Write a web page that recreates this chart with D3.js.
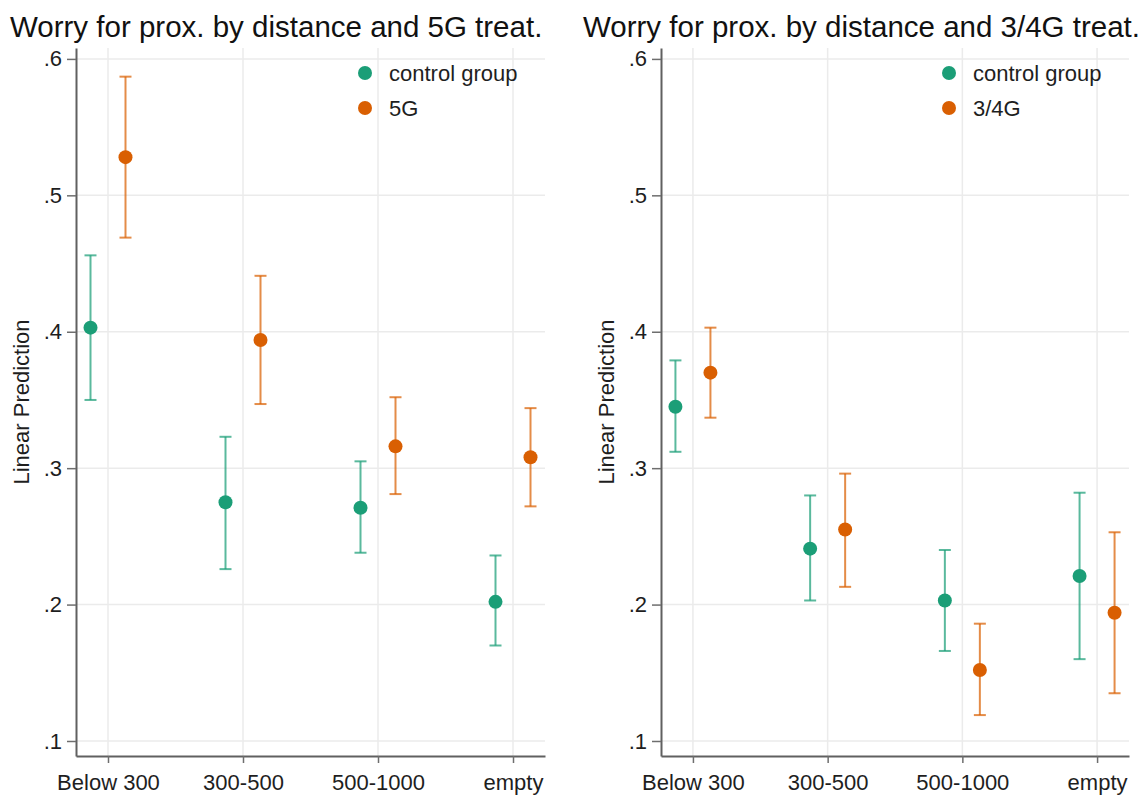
<!DOCTYPE html>
<html>
<head>
<meta charset="utf-8">
<script src="https://cdn.jsdelivr.net/npm/d3@7"></script>
<style>
  body { margin: 0; background: #fff; }
  svg { display: block; font-family: "Liberation Sans", Arial, sans-serif; }
  .grid line { stroke: #ebebeb; stroke-width: 1.5; }
  .axis .domain { stroke: #606060; stroke-width: 2; }
  .axis .tick line { stroke: #6e6e6e; stroke-width: 1.5; }
  .axis text { fill: #1e1e1e; font-size: 22px; }
</style>
</head>
<body>
<svg id="chart" width="1146" height="800"></svg>
<script>
// distance categories and y ticks
const categories = ["Below 300", "300-500", "500-1000", "empty"];
const yTicks = [0.1, 0.2, 0.3, 0.4, 0.5, 0.6];

// panel 1: 5G treatment
const ctrlA = [0.403, 0.275, 0.271, 0.202];
const ctrlA_lo = [0.350, 0.226, 0.238, 0.170];
const ctrlA_hi = [0.456, 0.323, 0.305, 0.236];
const treatA = [0.528, 0.394, 0.316, 0.308];
const treatA_lo = [0.469, 0.347, 0.281, 0.272];
const treatA_hi = [0.587, 0.441, 0.352, 0.344];

// panel 2: 3/4G treatment
const ctrlB = [0.345, 0.241, 0.203, 0.221];
const ctrlB_lo = [0.312, 0.203, 0.166, 0.160];
const ctrlB_hi = [0.379, 0.280, 0.240, 0.282];
const treatB = [0.370, 0.255, 0.152, 0.194];
const treatB_lo = [0.337, 0.213, 0.119, 0.135];
const treatB_hi = [0.403, 0.296, 0.186, 0.253];

const green = "#1b9e77", orange = "#d95f02";

const panels = [
  { title: "Worry for prox. by distance and 5G treat.", titleX: 10, left: 76, right: 545, labelX: 29,
    series: [
      { name: "control group", color: green, est: ctrlA, lo: ctrlA_lo, hi: ctrlA_hi },
      { name: "5G", color: orange, est: treatA, lo: treatA_lo, hi: treatA_hi }
    ] },
  { title: "Worry for prox. by distance and 3/4G treat.", titleX: 583, left: 661, right: 1129, labelX: 614,
    series: [
      { name: "control group", color: green, est: ctrlB, lo: ctrlB_lo, hi: ctrlB_hi },
      { name: "3/4G", color: orange, est: treatB, lo: treatB_lo, hi: treatB_hi }
    ] }
];

const plotTop = 48, plotBottom = 756;
const svg = d3.select("#chart");

const y = d3.scaleLinear().domain([0.089, 0.608]).range([plotBottom, plotTop]);
const fmt = (d) => d3.format(".1f")(d).replace(/^0/, "");

panels.forEach(function(p) {
  const g = svg.append("g");
  const x = d3.scalePoint().domain(categories).range([p.left, p.right]).padding(0.237);
  const off = d3.scalePoint().domain([0, 1]).range([-17.5, 17.5]);

  // gridlines
  const grid = g.append("g").attr("class", "grid");
  grid.selectAll(".h").data(yTicks).enter().append("line")
    .attr("x1", p.left).attr("x2", p.right)
    .attr("y1", (d) => y(d)).attr("y2", (d) => y(d));
  grid.selectAll(".v").data(categories).enter().append("line")
    .attr("x1", (d) => x(d)).attr("x2", (d) => x(d))
    .attr("y1", plotTop).attr("y2", plotBottom);

  // axes
  g.append("g").attr("class", "axis")
    .attr("transform", "translate(" + p.left + ",0)")
    .call(d3.axisLeft(y).tickValues(yTicks).tickFormat(fmt).tickSize(9).tickSizeOuter(0).tickPadding(5));
  g.append("g").attr("class", "axis")
    .attr("transform", "translate(0," + plotBottom + ")")
    .call(d3.axisBottom(x).tickSize(7).tickSizeOuter(0).tickPadding(11));

  // y axis title
  g.append("text").text("Linear Prediction")
    .attr("transform", "translate(" + p.labelX + "," + ((plotTop + plotBottom) / 2) + ") rotate(-90)")
    .attr("text-anchor", "middle")
    .attr("font-size", "22px")
    .attr("fill", "#1e1e1e");

  // title
  g.append("text").text(p.title)
    .attr("x", p.titleX).attr("y", 37)
    .attr("font-size", "29.5px")
    .attr("fill", "#111");

  // error bars and points
  p.series.forEach(function(s, si) {
    const sg = g.append("g");
    const cx = (i) => x(categories[i]) + off(si);
    const idx = d3.range(categories.length);
    sg.selectAll(".bar").data(idx).enter().append("line")
      .attr("x1", cx).attr("x2", cx)
      .attr("y1", (i) => y(s.lo[i])).attr("y2", (i) => y(s.hi[i]))
      .attr("stroke", s.color).attr("stroke-width", 2).attr("stroke-opacity", 0.72);
    [s.lo, s.hi].forEach(function(arr) {
      sg.selectAll(null).data(idx).enter().append("line")
        .attr("x1", (i) => cx(i) - 6).attr("x2", (i) => cx(i) + 6)
        .attr("y1", (i) => y(arr[i])).attr("y2", (i) => y(arr[i]))
        .attr("stroke", s.color).attr("stroke-width", 2).attr("stroke-opacity", 0.72);
    });
    sg.selectAll("circle").data(idx).enter().append("circle")
      .attr("cx", cx).attr("cy", (i) => y(s.est[i]))
      .attr("r", 7).attr("fill", s.color);
  });

  // legend
  const lg = g.append("g").attr("transform", "translate(" + (p.right - 180) + ",73)");
  p.series.forEach(function(s, si) {
    lg.append("circle").attr("cx", 0).attr("cy", si * 35).attr("r", 7).attr("fill", s.color);
    lg.append("text").text(s.name)
      .attr("x", 24).attr("y", si * 35 + 8)
      .attr("font-size", "22px").attr("fill", "#1e1e1e");
  });
});
</script>
</body>
</html>
